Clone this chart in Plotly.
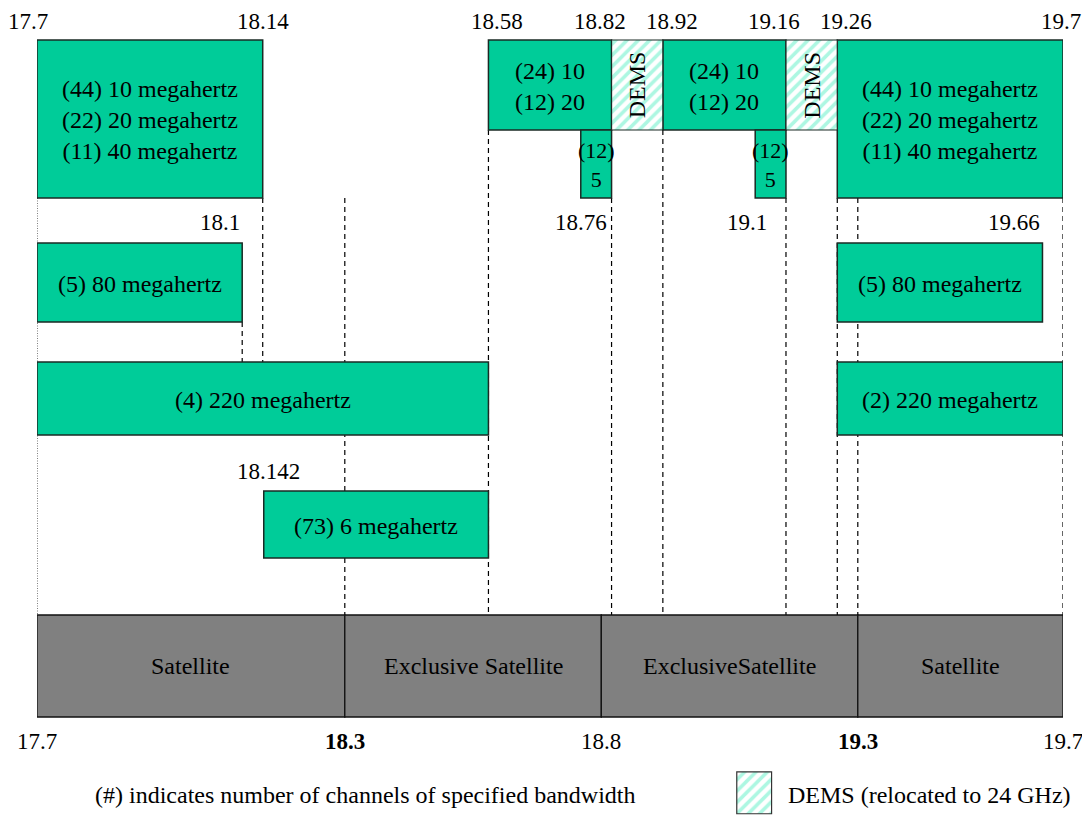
import plotly.graph_objects as go

# ---------------- data (GHz) ----------------
green_starts = [17.7, 18.58, 18.76, 18.92, 19.10, 19.26, 17.7, 19.26, 17.7, 19.26, 18.142]
green_ends   = [18.14, 18.82, 18.82, 19.16, 19.16, 19.7, 18.10, 19.66, 18.58, 19.7, 18.58]
green_rows   = ["A", "A_top", "A_bot", "A_top", "A_bot", "A", "B", "B", "C", "C", "D"]
green_labels = [
    "(44) 10 megahertz<br>(22) 20 megahertz<br>(11) 40 megahertz",
    "(24) 10<br>(12) 20",
    "(12)<br>5",
    "(24) 10<br>(12) 20",
    "(12)<br>5",
    "(44) 10 megahertz<br>(22) 20 megahertz<br>(11) 40 megahertz",
    "(5) 80 megahertz",
    "(5) 80 megahertz",
    "(4) 220 megahertz",
    "(2) 220 megahertz",
    "(73) 6 megahertz",
]

dems_starts = [18.82, 19.16]
dems_ends   = [18.92, 19.26]
dems_label  = "DEMS"

band_edges  = [17.7, 18.3, 18.8, 19.3, 19.7]
band_labels = ["Satellite", "Exclusive Satellite", "ExclusiveSatellite", "Satellite"]

top_ticks    = [17.7, 18.14, 18.58, 18.82, 18.92, 19.16, 19.26, 19.7]
rowb_right   = [18.1, 19.66]          # labels right-aligned to the value
rowb_center  = [18.76, 19.1]          # labels centred on the value
rowd_ticks   = [18.142]
bottom_ticks = [17.7, 18.3, 18.8, 19.3, 19.7]
bold_ticks   = [18.3, 19.3]

# dashed guide lines: frequency, row they start below, row they end above
dashed_freqs  = [18.1, 18.14, 18.3, 18.58, 18.82, 18.92, 19.16, 19.26, 19.3, 19.7]
dashed_from   = ["B", "A", "A", "A_top", "A", "A_top", "A", "A", "A", "A"]
dashed_to     = ["C", "C", "band", "band", "band", "band", "band", "band", "band", "band"]
dotted_freqs  = [17.7]

legend_note = "(#) indicates number of channels of specified bandwidth"
legend_dems = "DEMS (relocated to 24 GHz)"

# ---------------- layout geometry (page pixels, y down) ----------------
ROWS = {"A": (40, 198), "A_top": (40, 130), "A_bot": (130, 198),
        "B": (243, 322), "C": (362, 435), "D": (491, 558), "band": (615, 717)}
Y_TOP_LABEL, Y_ROWB_LABEL, Y_ROWD_LABEL, Y_BOTTOM_LABEL, Y_LEGEND = 21, 222, 471, 741, 795
TOP_SHIFTS  = [-9, 0, 9, -12, 9, -12, 9, -2]     # label nudges (px)
ROWB_SHIFTS = [0, -8]

FONT = "Liberation Serif, Times New Roman, serif"
GREEN = "#00CC99"
HATCH = "#5CEFC6"
PAGE_OFFSET = 8   # default body margin of the html page

def ctr(r):
    return (ROWS[r][0] + ROWS[r][1]) / 2

def hgt(r):
    return ROWS[r][1] - ROWS[r][0]

fig = go.Figure()

# gray allocation band
fig.add_trace(go.Bar(
    orientation="h",
    base=band_edges[:-1],
    x=[b - a for a, b in zip(band_edges[:-1], band_edges[1:])],
    y=[ctr("band")] * (len(band_edges) - 1),
    width=[hgt("band")] * (len(band_edges) - 1),
    marker=dict(color="#808080", line=dict(color="#111111", width=1.3)),
    hoverinfo="skip", showlegend=False,
))

# green channel blocks
fig.add_trace(go.Bar(
    orientation="h",
    base=green_starts,
    x=[e - s for s, e in zip(green_starts, green_ends)],
    y=[ctr(r) for r in green_rows],
    width=[hgt(r) for r in green_rows],
    marker=dict(color=GREEN, line=dict(color="#1a2a24", width=1.5)),
    hoverinfo="skip", showlegend=False,
))

# DEMS hatched blocks
pattern = dict(shape="/", fgcolor=HATCH, bgcolor="white", size=8, solidity=0.45, fillmode="overlay")
fig.add_trace(go.Bar(
    orientation="h",
    base=dems_starts,
    x=[e - s for s, e in zip(dems_starts, dems_ends)],
    y=[ctr("A_top")] * len(dems_starts),
    width=[hgt("A_top")] * len(dems_starts),
    marker=dict(color="white", pattern=pattern, line=dict(color="#1a2a24", width=1.2)),
    hoverinfo="skip", showlegend=False,
))

# legend swatch in its own small axes
fig.add_trace(go.Bar(
    orientation="h", base=[0], x=[1], y=[0.5], width=[1],
    marker=dict(color="white", pattern=pattern, line=dict(color="#333333", width=1.2)),
    xaxis="x2", yaxis="y2", hoverinfo="skip", showlegend=False,
))

shapes = []
for f, a, b in zip(dashed_freqs, dashed_from, dashed_to):
    shapes.append(dict(type="line", xref="x", yref="y", x0=f, x1=f,
                       y0=ROWS[a][1], y1=ROWS[b][0], layer="below",
                       line=dict(color="black", width=1.2, dash="5px,4px")))
for f in dotted_freqs:
    shapes.append(dict(type="line", xref="x", yref="y", x0=f, x1=f,
                       y0=ROWS["A"][1], y1=ROWS["band"][0], layer="below",
                       line=dict(color="black", width=1, dash="1px,1.5px")))

ann = []
def label(x, y, text, size=24, xanchor="center", textangle=0, xshift=0, xref="x"):
    ann.append(dict(x=x, y=y, xref=xref, yref="y", text=text, showarrow=False,
                    xanchor=xanchor, yanchor="middle", textangle=textangle, xshift=xshift,
                    font=dict(family=FONT, size=size, color="black")))

for s, e, r, t in zip(green_starts, green_ends, green_rows, green_labels):
    label((s + e) / 2, ctr(r) + 1, t, size=22 if r == "A_bot" else 24)
for s, e in zip(dems_starts, dems_ends):
    label((s + e) / 2, ctr("A_top"), dems_label, textangle=-90)
for a, b, t in zip(band_edges[:-1], band_edges[1:], band_labels):
    label((a + b) / 2, ctr("band"), t)

for v, sh in zip(top_ticks, TOP_SHIFTS):
    label(v, Y_TOP_LABEL, f"{v:g}", size=23, xshift=sh)
for v in rowb_right:
    label(v, Y_ROWB_LABEL, f"{v:g}", size=23, xanchor="right")
for v, sh in zip(rowb_center, ROWB_SHIFTS):
    label(v, Y_ROWB_LABEL, f"{v:g}", size=23, xshift=sh)
for v in rowd_ticks:
    label(v, Y_ROWD_LABEL, f"{v:g}", size=23, xshift=5)
for v in bottom_ticks:
    txt = f"<b>{v:g}</b>" if v in bold_ticks else f"{v:g}"
    label(v, Y_BOTTOM_LABEL, txt, size=23)

label(0.32, Y_LEGEND, legend_note, xref="paper")
label(0.73, Y_LEGEND, legend_dems, xanchor="left", xref="paper")

W, H = 1090 - PAGE_OFFSET, 815 - PAGE_OFFSET
fig.update_layout(
    width=W, height=H,
    margin=dict(l=37 - PAGE_OFFSET, r=27, t=0, b=0),
    paper_bgcolor="white", plot_bgcolor="white",
    barmode="overlay",
    xaxis=dict(range=[band_edges[0], band_edges[-1]], visible=False, fixedrange=True),
    yaxis=dict(range=[815, PAGE_OFFSET], visible=False, fixedrange=True),
    xaxis2=dict(domain=[0.680, 0.718], range=[-0.06, 1.06], visible=False, anchor="y2"),
    yaxis2=dict(domain=[0.0, 0.055], range=[-0.03, 1.03], visible=False, anchor="x2"),
    shapes=shapes, annotations=ann,
    font=dict(family=FONT),
)

fig.write_html("out.html")
